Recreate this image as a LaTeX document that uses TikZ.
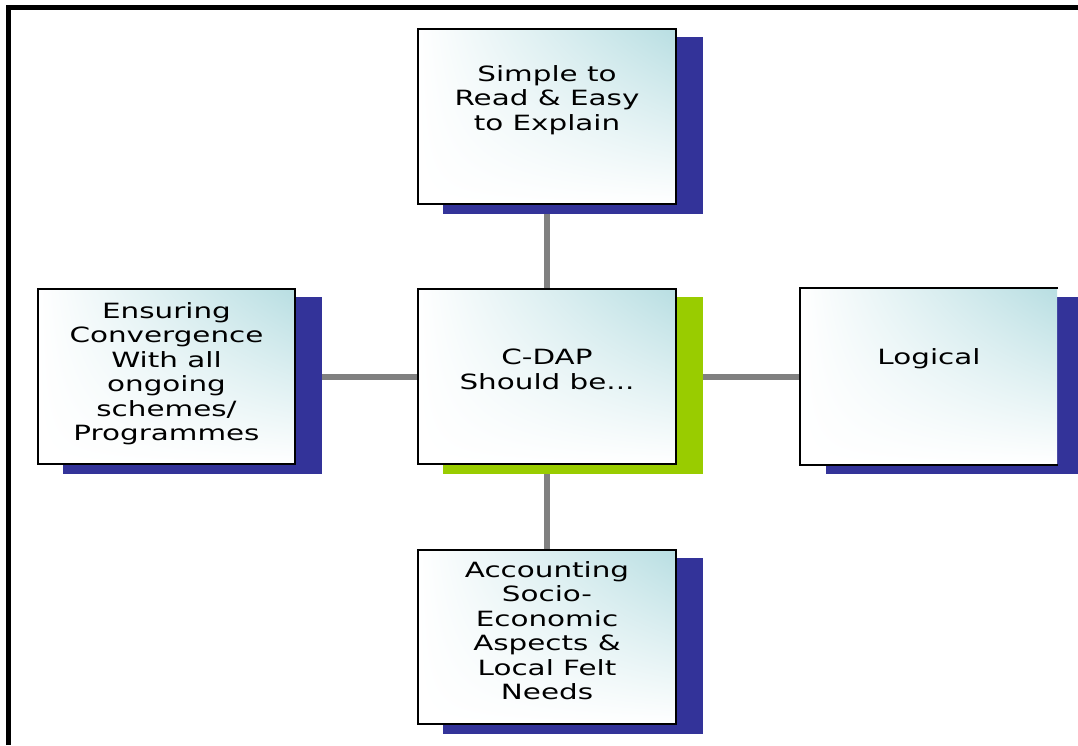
\documentclass[tikz,border=0pt]{standalone}
\usepackage{fontspec}
\usetikzlibrary{shadings}
\newfontfamily\boxfont[FakeStretch=1.4]{DejaVu Sans}
\definecolor{navyshadow}{RGB}{51,51,153}
\definecolor{limeshadow}{RGB}{153,204,0}
\definecolor{tealtint}{RGB}{184,222,226}
\definecolor{linkgrey}{RGB}{128,128,128}
\pgfdeclarelayer{bg}
\pgfsetlayers{bg,main}
\tikzset{
  box/.style={rectangle, minimum width=258pt, minimum height=175pt, inner sep=0pt,
    line width=2pt, shade, upper right=tealtint, upper left=white,
    lower left=white, lower right=white},
  framed/.style={draw=black},
  boxtext/.style={font=\boxfont\fontsize{21}{24.5}\selectfont, align=center, inner sep=0pt, text=black},
  link/.style={draw=linkgrey, line width=6pt},
  frameline/.style={draw=black, line width=5.5pt},
}
\begin{document}
\begin{tikzpicture}[x=1pt,y=-1pt]
\useasboundingbox (0,0) rectangle (1078,745);
% outer frame
\coordinate (fb) at (8.5,745);
\coordinate (fc) at (8.5,7.5);
\coordinate (fr) at (1078,7.5);
\draw[frameline] (fb) -- (fc) -- (fr);
% boxes
\node[box,framed] (simple) at (547,116.5) {};
\node[box,framed] (hub) at (547,376.5) {};
\node[box,framed,minimum width=257pt] (converge) at (166.5,376.5) {};
\node[box,minimum width=256pt] (logical) at (929,376.5) {};
\draw[black, line width=2pt] (logical.north east) -- (logical.north west) -- (logical.south west) -- (logical.south east);
\node[box,framed,minimum height=174pt] (socio) at (547,637) {};
% texts
\node[boxtext] (t-simple) at (547,100) {Simple to\\Read \& Easy\\to Explain};
\node[boxtext] (t-hub) at (547,369.5) {C-DAP\\Should be...};
\node[boxtext] (t-conv) at (166.5,373.5) {Ensuring\\Convergence\\With all\\ongoing\\schemes/\\Programmes};
\node[boxtext] (t-logic) at (929,358.5) {Logical};
\node[boxtext] (t-socio) at (547,630.5) {Accounting\\Socio-\\Economic\\Aspects \&\\Local Felt\\Needs};
% connectors and shadows behind
\begin{pgfonlayer}{bg}
  \draw[link] (simple.south) -- (hub.north);
  \draw[link] (hub.south) -- (socio.north);
  \draw[link] (converge.east) -- (hub.west);
  \draw[link] (hub.east) -- (logical.west);
  \foreach \n/\c in {simple/navyshadow, converge/navyshadow, logical/navyshadow, socio/navyshadow, hub/limeshadow}
    \fill[\c] ([shift={(26,9)}]\n.south west) rectangle ([shift={(26,9)}]\n.north east);
\end{pgfonlayer}
\end{tikzpicture}
\end{document}
